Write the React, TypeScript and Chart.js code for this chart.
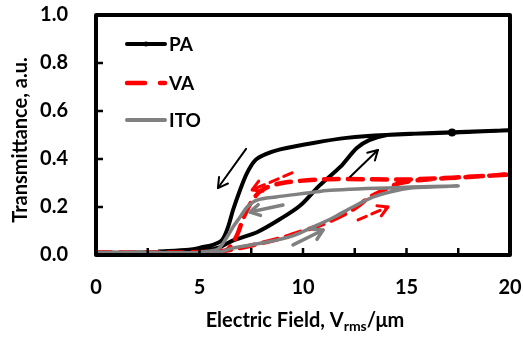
import React, { useEffect, useRef } from "react";
import { Chart, registerables } from "chart.js";
Chart.register(...registerables);

// PA loop: increasing field (lower branch) then decreasing field (upper branch)
const paX = [0, 2, 4, 5, 5.5, 6, 6.6, 7.8, 8.9, 9.85, 10.8, 11.8, 12.6, 13.2, 14.06, 15.2, 17.2, 20,
  14, 12.1, 10.5, 8.9, 8.2, 7.7, 7.3, 6.96, 6.62, 6.38, 6.09, 5.65, 5.17, 4.5, 3];
const paY = [0.01, 0.01, 0.012, 0.015, 0.022, 0.033, 0.06, 0.096, 0.15, 0.205, 0.29, 0.367, 0.446, 0.479, 0.5, 0.505, 0.51, 0.52,
  0.5, 0.488, 0.467, 0.44, 0.42, 0.395, 0.342, 0.271, 0.1875, 0.117, 0.0625, 0.042, 0.033, 0.022, 0.015];
const paMarkerIndex = 16;

// VA loop
const vaX = [0, 3, 5, 6, 7, 8, 9, 10, 11, 12, 12.6, 13.2, 14, 14.7, 16, 18, 20,
  15.2, 11.3, 9, 8, 7.5, 7.1, 6.85, 6.6, 6.3, 5.5];
const vaY = [0.01, 0.01, 0.012, 0.015, 0.03, 0.05, 0.072, 0.1, 0.13, 0.17, 0.2, 0.24, 0.275, 0.3, 0.315, 0.325, 0.335,
  0.315, 0.316, 0.3, 0.27, 0.22, 0.15, 0.09, 0.05, 0.02, 0.012];

// ITO loop
const itoX = [0, 3, 5, 6, 6.62, 8.26, 9.5, 10.5, 11.45, 12.4, 13.4, 14.2, 15.2, 17.5,
  15.2, 11.3, 10.2, 8.7, 7.78, 7.3, 6.96, 6.62, 6.33, 6.0, 5.75, 5];
const itoY = [0.01, 0.01, 0.01, 0.013, 0.029, 0.054, 0.08, 0.117, 0.155, 0.2, 0.242, 0.2625, 0.279, 0.2875,
  0.283, 0.27, 0.258, 0.242, 0.229, 0.2, 0.158, 0.117, 0.075, 0.033, 0.02, 0.012];

// Arrow annotations (data coordinates): [x0, y0, x1, y1]
const blackArrows = [[7.25, 0.442, 5.89, 0.279], [12.27, 0.325, 13.62, 0.4375]];
const redArrows = [[9.47, 0.342, 7.54, 0.271], [12.66, 0.146, 14.1, 0.2]];
const grayArrows = [[9.03, 0.208, 7.44, 0.179], [9.52, 0.042, 10.97, 0.104]];

const seriesNames = ["PA", "VA", "ITO"];
const xMajorTicks = [0, 5, 10, 15, 20];
const xMinorTicks = [2.5, 5, 7.5, 10, 12.5, 15, 17.5];
const yInnerTicks = [0.2, 0.4, 0.6, 0.8];
const xTitleMain = "Electric Field, V";
const xTitleSub = "rms";
const xTitleEnd = "/\u03bcm";
const yTitle = "Transmittance, a.u.";

const FONT = "Lato, 'DejaVu Sans', sans-serif";
const RED = "#ff0000";
const GRAY = "#808080";

function toPts(xs: number[], ys: number[]) {
  return xs.map((x, i) => ({ x, y: ys[i] }));
}

function drawArrow(ctx: CanvasRenderingContext2D, chart: any, a: number[], color: string, width: number, dash: number[]) {
  const xs = chart.scales.x, ys = chart.scales.y;
  const x0 = xs.getPixelForValue(a[0]), y0 = ys.getPixelForValue(a[1]);
  const x1 = xs.getPixelForValue(a[2]), y1 = ys.getPixelForValue(a[3]);
  const ang = Math.atan2(y1 - y0, x1 - x0);
  const hl = 11, ha = Math.PI / 6;
  ctx.save();
  ctx.strokeStyle = color;
  ctx.lineWidth = width;
  ctx.lineCap = "round";
  ctx.lineJoin = "round";
  ctx.setLineDash(dash);
  ctx.beginPath();
  ctx.moveTo(x0, y0);
  ctx.lineTo(x1, y1);
  ctx.stroke();
  ctx.setLineDash([]);
  ctx.beginPath();
  ctx.moveTo(x1 - hl * Math.cos(ang - ha), y1 - hl * Math.sin(ang - ha));
  ctx.lineTo(x1, y1);
  ctx.lineTo(x1 - hl * Math.cos(ang + ha), y1 - hl * Math.sin(ang + ha));
  ctx.stroke();
  ctx.restore();
}

const decoPlugin = {
  id: "deco",
  afterDatasetsDraw(chart: any) {
    const ctx: CanvasRenderingContext2D = chart.ctx;
    const ca = chart.chartArea;
    const xs = chart.scales.x, ys = chart.scales.y;

    blackArrows.forEach((a) => drawArrow(ctx, chart, a, "#000", 2, []));
    redArrows.forEach((a) => drawArrow(ctx, chart, a, RED, 3, [9, 6]));
    grayArrows.forEach((a) => drawArrow(ctx, chart, a, GRAY, 3.5, []));

    // frame
    ctx.save();
    ctx.strokeStyle = "#000";
    ctx.lineWidth = 4;
    ctx.lineJoin = "round";
    ctx.strokeRect(ca.left, ca.top, ca.right - ca.left, ca.bottom - ca.top);
    // inner ticks
    ctx.lineWidth = 2.5;
    ctx.lineCap = "butt";
    xMinorTicks.forEach((v) => {
      const px = xs.getPixelForValue(v);
      ctx.beginPath();
      ctx.moveTo(px, ca.bottom);
      ctx.lineTo(px, ca.bottom - 7);
      ctx.stroke();
    });
    yInnerTicks.forEach((v) => {
      const py = ys.getPixelForValue(v);
      ctx.beginPath();
      ctx.moveTo(ca.left, py);
      ctx.lineTo(ca.left + 7, py);
      ctx.stroke();
    });
    ctx.restore();

    // legend
    const styles = [
      { color: "#000", width: 4, dash: [] as number[] },
      { color: RED, width: 4.5, dash: [18, 15] },
      { color: GRAY, width: 4, dash: [] as number[] },
    ];
    const ly = [44, 83, 120];
    ctx.save();
    seriesNames.forEach((name, i) => {
      const s = styles[i];
      ctx.strokeStyle = s.color;
      ctx.lineWidth = s.width;
      ctx.lineCap = "round";
      ctx.setLineDash(s.dash);
      ctx.beginPath();
      ctx.moveTo(127, ly[i]);
      ctx.lineTo(165, ly[i]);
      ctx.stroke();
      ctx.setLineDash([]);
      if (i === 0) {
        ctx.fillStyle = "#000";
        ctx.beginPath();
        ctx.arc(146, ly[i], 2.5, 0, Math.PI * 2);
        ctx.fill();
      }
      ctx.fillStyle = "#000";
      ctx.font = `bold 19px ${FONT}`;
      ctx.textAlign = "left";
      ctx.textBaseline = "middle";
      ctx.fillText(name, 169, ly[i] + 1);
    });
    ctx.restore();

    // axis titles
    ctx.save();
    ctx.fillStyle = "#000";
    const big = `bold 20px ${FONT}`;
    const small = `bold 14px ${FONT}`;
    ctx.font = big;
    const w1 = ctx.measureText(xTitleMain).width;
    const w3 = ctx.measureText(xTitleEnd).width;
    ctx.font = small;
    const w2 = ctx.measureText(xTitleSub).width;
    const total = w1 + w2 + w3;
    const cx = 305;
    let x = cx - total / 2;
    const base = 327;
    ctx.textBaseline = "alphabetic";
    ctx.textAlign = "left";
    ctx.font = big;
    ctx.fillText(xTitleMain, x, base);
    x += w1;
    ctx.font = small;
    ctx.fillText(xTitleSub, x, base + 4);
    x += w2;
    ctx.font = big;
    ctx.fillText(xTitleEnd, x, base);

    ctx.translate(21, 140);
    ctx.rotate(-Math.PI / 2);
    ctx.textAlign = "center";
    ctx.textBaseline = "middle";
    ctx.font = big;
    ctx.fillText(yTitle, 0, 0);
    ctx.restore();
  },
};

export default function App() {
  const ref = useRef<HTMLCanvasElement>(null);
  useEffect(() => {
    if (!ref.current) return;
    const chart = new Chart(ref.current, {
      type: "line",
      data: {
        datasets: [
          {
            label: seriesNames[0],
            data: toPts(paX, paY),
            borderColor: "#000",
            backgroundColor: "#000",
            borderWidth: 4,
            tension: 0.3,
            pointRadius: paX.map((_, i) => (i === paMarkerIndex ? 2 : 0)),
            order: 3,
          },
          {
            label: seriesNames[1],
            data: toPts(vaX, vaY),
            borderColor: RED,
            borderWidth: 4.5,
            borderDash: [15, 9],
            borderCapStyle: "round",
            tension: 0.3,
            pointRadius: 0,
            order: 2,
          },
          {
            label: seriesNames[2],
            data: toPts(itoX, itoY),
            borderColor: GRAY,
            borderWidth: 3.5,
            tension: 0.3,
            pointRadius: 0,
            order: 1,
          },
        ],
      },
      options: {
        animation: false,
        responsive: false,
        layout: { padding: { top: 15, right: 13, left: 0, bottom: 0 } },
        plugins: { legend: { display: false }, tooltip: { enabled: false } },
        scales: {
          x: {
            type: "linear",
            min: 0,
            max: 20,
            afterBuildTicks: (s: any) => {
              s.ticks = xMajorTicks.map((v) => ({ value: v }));
            },
            afterFit: (s: any) => {
              s.height = 82;
              s.paddingLeft = 0;
              s.paddingRight = 0;
              s.paddingTop = 0;
              s.paddingBottom = 0;
            },
            ticks: {
              color: "#000",
              font: { family: FONT, size: 20, weight: "bold" },
              padding: 21,
              maxRotation: 0,
              callback: (v: any) => String(v),
            },
            grid: { display: false, drawTicks: false },
            border: { display: false },
          },
          y: {
            type: "linear",
            min: 0,
            max: 1,
            ticks: {
              stepSize: 0.2,
              color: "#000",
              font: { family: FONT, size: 20, weight: "bold" },
              padding: 28,
              callback: (v: any) => Number(v).toFixed(1),
            },
            afterFit: (s: any) => {
              s.width = 96;
              s.paddingLeft = 0;
              s.paddingRight = 0;
              s.paddingTop = 0;
              s.paddingBottom = 0;
            },
            grid: { display: false, drawTicks: false },
            border: { display: false },
          },
        },
      },
      plugins: [decoPlugin],
    } as any);
    return () => chart.destroy();
  }, []);
  return (
    <div style={{ position: "fixed", left: 0, top: 0, width: 523, height: 337, background: "#fff" }}>
      <canvas ref={ref} width={523} height={337} />
    </div>
  );
}
